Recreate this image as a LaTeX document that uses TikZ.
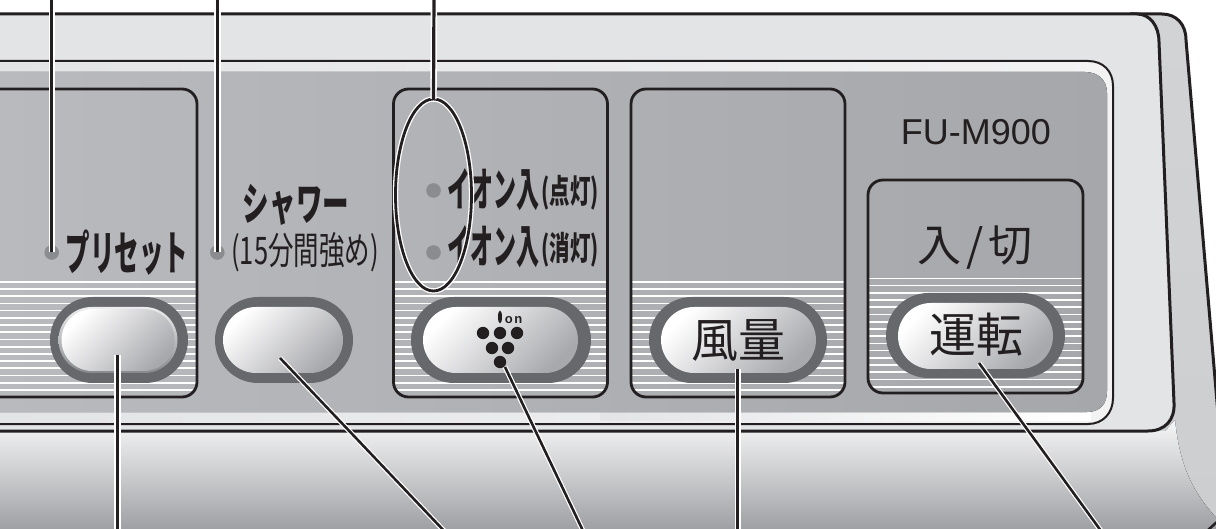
\documentclass[tikz,border=0pt]{standalone}
\usepackage{fontspec}
\usetikzlibrary{shapes.geometric,shapes.misc}
\newfontfamily\cjk{Noto Sans CJK JP}
\newcommand{\cjkb}{\cjk\bfseries}
\newfontfamily\latn{Liberation Sans}
\newcommand{\fsz}[1]{\fontsize{#1}{#1}\selectfont}
\newcommand{\sx}[2]{\scalebox{#1}[1]{#2}}
\definecolor{ink}{HTML}{231F20}
\definecolor{face}{HTML}{E3E4E6}
\definecolor{rimc}{HTML}{67686C}
\definecolor{dotc}{HTML}{8B8C90}
\definecolor{B}{HTML}{A8A9AD}
\definecolor{sideA}{HTML}{D2D3D5}
\definecolor{sideB}{HTML}{CDCED0}
\definecolor{lowA}{HTML}{F6F6F7}
\definecolor{lowB}{HTML}{CBCCCE}
\definecolor{lowC}{HTML}{9EA0A3}
\definecolor{bezelR}{HTML}{F3F3F4}
\definecolor{panA}{HTML}{B9BABD}
\definecolor{panB}{HTML}{A6A7AB}
\definecolor{edgeA}{HTML}{EDEDEE}
\definecolor{edgeB}{HTML}{88898D}
\tikzset{
  ln/.style={draw=ink,line width=#1},
  leader/.style={draw=ink,line width=3.2pt,preaction={draw=white,line width=6.4pt}},
  leaderd/.style={draw=ink,line width=2.6pt,preaction={draw=white,line width=5pt}},
  panelbox/.style={draw=ink,line width=2.8pt,rounded corners=15pt,inner sep=0,outer sep=0},
  rim/.style={rounded rectangle,fill=rimc,inner sep=0,outer sep=0},
  btn/.style={rounded rectangle,inner sep=0,outer sep=0,left color=white,right color=B,shading angle=45},
  lamp/.style={circle,fill=dotc,minimum size=14.6pt,inner sep=0},
  grape/.style={circle,fill=ink,minimum size=12.4pt,inner sep=0},
  lbl/.style={inner sep=0,text=ink}
}
\begin{document}
\begin{tikzpicture}[x=1pt,y=-1pt]
\useasboundingbox (0,0) rectangle (1216,529);
\begin{scope}
\clip (0,0) rectangle (1216,529);
% side
\fill[top color=sideA,bottom color=sideB] (1130,14) -- (1162,14) .. controls (1176,14) and (1186,24) .. (1186,40) -- (1220,437) -- (1220,529) -- (1130,529) -- cycle;
\draw[ln=3pt] (1130,14) -- (1162,14) .. controls (1176,14) and (1186,24) .. (1186,40) -- (1220,437);
% lower gradient
\fill[top color=lowA,bottom color=lowC,middle color=lowB] (-5,431) -- (1165,431) -- (1175,420) .. controls (1180,470) and (1195,495) .. (1220,522) -- (1220,529) -- (-5,529) -- cycle;
\draw[ln=2.5pt] (1208,530) -- (1218,521);
% front face
\fill[face] (-5,14) -- (1137,14) .. controls (1150,14) and (1159,26) .. (1159,42) -- (1174,403) .. controls (1175,420) and (1165,431) .. (1148,431) -- (-5,431) -- cycle;
\draw[ln=3pt] (-5,14) -- (1137,14) .. controls (1150,14) and (1159,26) .. (1159,42) -- (1174,403) .. controls (1175,420) and (1165,431) .. (1148,431) -- (-5,431);
% bezel
\fill[left color=face,right color=bezelR] (-5,61) -- (1088,61) .. controls (1103,61) and (1113,71) .. (1113,86) -- (1113,398) .. controls (1113,413) and (1103,424) .. (1088,424) -- (-5,424) -- cycle;
\fill[left color=face,right color=white] (600,412) rectangle (1091,420);
\draw[ln=2pt] (-5,61) -- (1088,61) .. controls (1103,61) and (1113,71) .. (1113,86) -- (1113,398) .. controls (1113,413) and (1103,424) .. (1088,424) -- (-5,424);
% panel
\fill[left color=panA,right color=panB] (-5,72) -- (1085,72) .. controls (1098,72) and (1107,80) .. (1107,93) -- (1107,391) .. controls (1107,404) and (1100,412) .. (1087,412) -- (-5,412) -- cycle;
% stripes
\begin{scope}\clip[rounded corners=15pt] (-30,89) rectangle (197,397);
\foreach \i in {0,...,15} \draw[white,line width=1.7pt] (-30,281.7+7.22*\i) -- (197,281.7+7.22*\i);
\end{scope}
\begin{scope}\clip[rounded corners=15pt] (393,89) rectangle (608,397);
\foreach \i in {0,...,15} \draw[white,line width=1.7pt] (393,281.7+7.22*\i) -- (608,281.7+7.22*\i);
\end{scope}
\begin{scope}\clip[rounded corners=15pt] (631,89) rectangle (845,397);
\foreach \i in {0,...,15} \draw[white,line width=1.7pt] (631,281.7+7.22*\i) -- (845,281.7+7.22*\i);
\end{scope}
\begin{scope}\clip[rounded corners=15pt] (868,180) rectangle (1083,393);
\foreach \i in {0,...,15} \draw[white,line width=1.7pt] (868,278.4+7.22*\i) -- (1083,278.4+7.22*\i);
\end{scope}
% boxes
\node[panelbox,minimum width=227pt,minimum height=308pt] (bx1) at (83.5,243) {};
\node[panelbox,minimum width=214pt,minimum height=308pt] (bx2) at (500.5,243) {};
\node[panelbox,minimum width=214pt,minimum height=308pt] (bx3) at (738,243) {};
\node[panelbox,minimum width=215pt,minimum height=213pt] (bx4) at (975.5,286.5) {};
% buttons
\node[rim,minimum width=138pt,minimum height=86pt] (r1) at (119,340) {};
\node[rounded rectangle,inner sep=0,outer sep=0,top color=edgeA,bottom color=edgeB,minimum width=119pt,minimum height=66pt] (b1e) at (118,340) {};
\node[btn,minimum width=113pt,minimum height=62pt] (b1) at (118,340) {};
\node[rim,minimum width=138pt,minimum height=86pt] (r2) at (284,340) {};
\node[btn,minimum width=120pt,minimum height=66pt] (b2) at (283,340) {};
\node[rim,minimum width=180pt,minimum height=86pt] (r3) at (501,340) {};
\node[btn,minimum width=155pt,minimum height=66pt] (b3) at (500.5,340) {};
\node[rim,minimum width=178pt,minimum height=86pt] (r4) at (738,340) {};
\node[btn,minimum width=155pt,minimum height=66pt] (b4) at (738.5,340) {};
\node[rim,minimum width=179pt,minimum height=85pt] (r5) at (975.5,335.5) {};
\node[btn,minimum width=155pt,minimum height=66pt] (b5) at (975.5,336) {};
% lamps
\node[lamp] (l1) at (51.7,252.5) {};
\node[lamp] (l2) at (217.3,252.5) {};
\node[lamp] (l3) at (433.5,190.5) {};
\node[lamp] (l4) at (433.5,252.5) {};
% text
\node[lbl,font=\cjkb\fsz{47}] (t1) at (127,253) {\sx{0.52}{プリセット}};
\node[lbl,font=\cjkb\fsz{45}] (t2) at (296,205) {\sx{0.59}{シャワー}};
\node[lbl,font=\cjk\fsz{38}] (t3) at (305,252) {\sx{0.67}{(15分間強め)}};
\node[lbl,font=\cjkb\fsz{46},anchor=west] (t4) at (447,190) {\sx{0.5}{イオン入}};
\node[lbl,font=\cjkb\fsz{33},anchor=east] (t5) at (599,193) {\sx{0.62}{(点灯)}};
\node[lbl,font=\cjkb\fsz{46},anchor=west] (t6) at (447,247) {\sx{0.5}{イオン入}};
\node[lbl,font=\cjkb\fsz{33},anchor=east] (t7) at (599,250) {\sx{0.62}{(消灯)}};
\node[lbl,font=\cjk\fsz{47}] (t8) at (738,340) {風量};
\node[lbl,font=\cjk\fsz{47}] (t9) at (976,335) {運転};
\node[lbl,font=\cjk\fsz{44}] (t10) at (975,248) {入\hspace{5pt}/\hspace{5pt}切};
\node[lbl,font=\latn\fsz{36}] (t11) at (976,132) {FU-M900};
% ion logo
\node[ellipse,fill=ink,minimum width=4pt,minimum height=13pt,inner sep=0] (st) at (500,317) {};
\node[lbl,font=\latn\bfseries\fsz{13}] (on) at (513.5,320) {o\hspace{1.5pt}n};
\node[grape] (g1) at (483,333) {};
\node[grape] (g2) at (500,333) {};
\node[grape] (g3) at (517,333) {};
\node[grape] (g4) at (492,348) {};
\node[grape] (g5) at (508,348) {};
\node[grape] (g6) at (500,362) {};
% ellipse
\node[ellipse,draw=ink,line width=2.8pt,preaction={draw=white,line width=5.4pt},minimum width=76pt,minimum height=192pt,inner sep=0,outer sep=0] (ov) at (433.5,195) {};
% connector ends
\coordinate (c1) at (51.7,-5);
\coordinate (c2) at (217.3,-5);
\coordinate (c3) at (434,-5);
\coordinate (c4) at (117.3,535);
\coordinate (c5) at (448,535);
\coordinate (c6) at (585,535);
\coordinate (c7) at (737.7,535);
\coordinate (c8) at (1104,535);
\coordinate (e4) at (117.3,355);
\coordinate (e5) at (280,358);
\coordinate (e6) at (505,367);
\coordinate (e7) at (737.7,369);
\coordinate (e8) at (979,363);
\draw[leader] (c1) -- (l1.center);
\draw[leader] (c2) -- (l2.center);
\draw[leader] (c3) -- (ov.north);
\draw[leader] (c4) -- (e4);
\draw[leaderd] (c5) -- (e5);
\draw[leaderd] (c6) -- (e6);
\draw[leader] (c7) -- (e7);
\draw[leaderd] (c8) -- (e8);
\end{scope}
\end{tikzpicture}
\end{document}
